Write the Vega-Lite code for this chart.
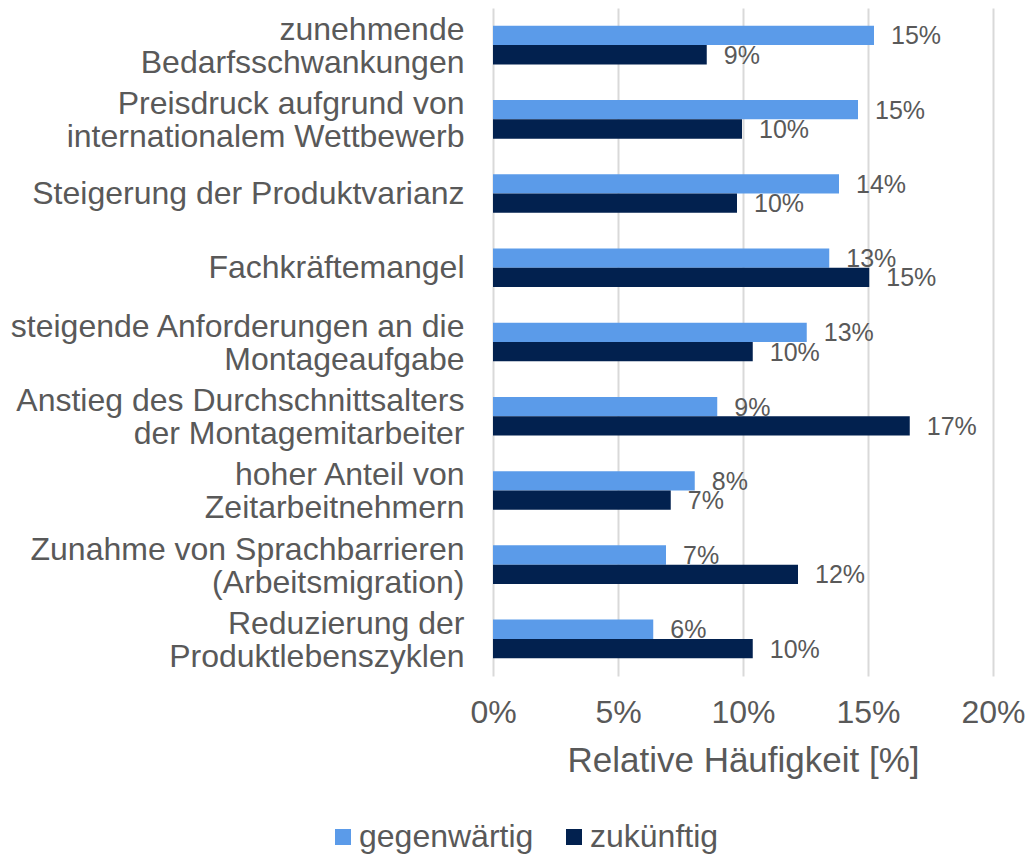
{
  "$schema": "https://vega.github.io/schema/vega-lite/v6.json",
  "width": 500,
  "height": 668,
  "autosize": {"type": "none"},
  "padding": {"left": 493, "top": 8, "right": 33, "bottom": 179},
  "background": "white",
  "config": {"view": {"stroke": null}, "font": "Liberation Sans"},
  "data": {
    "values": [
      {"kategorie": "zunehmende|Bedarfsschwankungen", "zeit": "gegenwärtig", "anteil": 0.1524},
      {"kategorie": "zunehmende|Bedarfsschwankungen", "zeit": "zukünftig", "anteil": 0.0855},
      {"kategorie": "Preisdruck aufgrund von|internationalem Wettbewerb", "zeit": "gegenwärtig", "anteil": 0.146},
      {"kategorie": "Preisdruck aufgrund von|internationalem Wettbewerb", "zeit": "zukünftig", "anteil": 0.0996},
      {"kategorie": "Steigerung der Produktvarianz", "zeit": "gegenwärtig", "anteil": 0.1384},
      {"kategorie": "Steigerung der Produktvarianz", "zeit": "zukünftig", "anteil": 0.0976},
      {"kategorie": "Fachkräftemangel ", "zeit": "gegenwärtig", "anteil": 0.1345},
      {"kategorie": "Fachkräftemangel ", "zeit": "zukünftig", "anteil": 0.1505},
      {"kategorie": "steigende Anforderungen an die|Montageaufgabe", "zeit": "gegenwärtig", "anteil": 0.1255},
      {"kategorie": "steigende Anforderungen an die|Montageaufgabe", "zeit": "zukünftig", "anteil": 0.1039},
      {"kategorie": "Anstieg des Durchschnittsalters|der Montagemitarbeiter", "zeit": "gegenwärtig", "anteil": 0.0897},
      {"kategorie": "Anstieg des Durchschnittsalters|der Montagemitarbeiter", "zeit": "zukünftig", "anteil": 0.1667},
      {"kategorie": "hoher Anteil von|Zeitarbeitnehmern", "zeit": "gegenwärtig", "anteil": 0.0807},
      {"kategorie": "hoher Anteil von|Zeitarbeitnehmern", "zeit": "zukünftig", "anteil": 0.0711},
      {"kategorie": "Zunahme von Sprachbarrieren|(Arbeitsmigration)", "zeit": "gegenwärtig", "anteil": 0.0692},
      {"kategorie": "Zunahme von Sprachbarrieren|(Arbeitsmigration)", "zeit": "zukünftig", "anteil": 0.122},
      {"kategorie": "Reduzierung der|Produktlebenszyklen", "zeit": "gegenwärtig", "anteil": 0.0641},
      {"kategorie": "Reduzierung der|Produktlebenszyklen", "zeit": "zukünftig", "anteil": 0.1039}
    ]
  },
  "encoding": {
    "y": {
      "field": "kategorie",
      "type": "nominal",
      "sort": null,
      "scale": {"paddingInner": 0.48, "paddingOuter": 0.24},
      "axis": {
        "title": null,
        "domain": false,
        "ticks": false,
        "labelPadding": 29,
        "labelFontSize": 32,
        "labelColor": "#595959",
        "labelLimit": 600,
        "labelExpr": "split(datum.label, '|')",
        "labelLineHeight": 33,
        "labelAlign": "right",
        "labelBaseline": "middle",
        "labelOffset": {"condition": {"test": "indexof(datum.value, '|') >= 0", "value": -15}, "value": 0}
      }
    },
    "yOffset": {
      "field": "zeit",
      "type": "nominal",
      "sort": ["gegenwärtig", "zukünftig"],
      "scale": {"paddingInner": 0, "paddingOuter": 0}
    },
    "x": {
      "field": "anteil",
      "type": "quantitative",
      "scale": {"domain": [0, 0.2], "nice": false},
      "axis": {
        "values": [0, 0.05, 0.1, 0.15, 0.2],
        "format": ".0%",
        "domain": false,
        "ticks": false,
        "grid": true,
        "gridColor": "#d9d9d9",
        "gridWidth": 2,
        "labelFontSize": 32,
        "labelColor": "#595959",
        "labelPadding": 21,
        "labelFlush": false,
        "title": "Relative Häufigkeit [%]",
        "titleFontSize": 35,
        "titleFontWeight": "normal",
        "titleColor": "#595959",
        "titlePadding": 15
      }
    }
  },
  "layer": [
    {
      "mark": {"type": "bar"},
      "encoding": {
        "color": {
          "field": "zeit",
          "type": "nominal",
          "scale": {"domain": ["gegenwärtig", "zukünftig"], "range": ["#5B9BE9", "#02214F"]},
          "legend": {
            "orient": "none",
            "legendX": -166,
            "legendY": 813,
            "direction": "horizontal",
            "title": null,
            "symbolType": "square",
            "symbolSize": 256,
            "symbolStrokeWidth": 0,
            "labelFontSize": 32,
            "labelColor": "#595959",
            "labelOffset": 0,
            "columnPadding": 24,
            "labelLimit": 400,
            "padding": 0
          }
        }
      }
    },
    {
      "mark": {"type": "text", "align": "left", "baseline": "middle", "dx": 17, "dy": 1, "fontSize": 25, "color": "#595959"},
      "encoding": {
        "text": {"field": "anteil", "type": "quantitative", "format": ".0%"}
      }
    }
  ]
}
